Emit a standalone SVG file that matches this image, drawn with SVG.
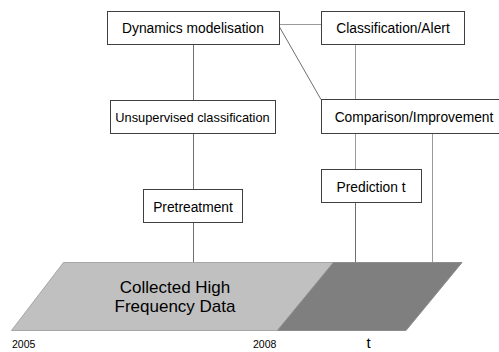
<svg xmlns="http://www.w3.org/2000/svg" width="499" height="352" viewBox="0 0 499 352">
  <style>
    .box { fill: #ffffff; stroke: #3f3f3f; stroke-width: 1; }
    .lbl { font-family: "Liberation Sans", Arial, sans-serif; font-size: 13.8px; fill: #000000; text-anchor: middle; }
    .big { font-family: "Liberation Sans", Arial, sans-serif; font-size: 17px; fill: #000000; text-anchor: middle; }
    .yr { font-family: "Liberation Sans", Arial, sans-serif; font-size: 10.5px; fill: #000000; }
    .conn { stroke: #6f6f6f; stroke-width: 1; fill: none; }
    .connl { stroke: #9a9a9a; stroke-width: 1; fill: none; }
  </style>
  <rect width="499" height="352" fill="#ffffff"/>

  <g id="data-band">
    <polygon points="63.5,262.5 333.5,262.5 277.5,330.5 11.5,330.5" fill="#c0c0c0" stroke="#a6a6a6" stroke-width="1"/>
    <polygon points="333.5,262.5 462,262.5 406,330.5 277.5,330.5" fill="#7f7f7f" stroke="#8c8c8c" stroke-width="1"/>
    <text class="big" x="175" y="293">Collected High</text>
    <text class="big" x="175" y="312">Frequency Data</text>
  </g>

  <g id="connectors">
    <line class="connl" x1="280" y1="24.5" x2="321" y2="24.5"/>
    <line class="conn" x1="279.5" y1="27" x2="321" y2="99.5"/>
    <line class="conn" x1="193.5" y1="44" x2="193.5" y2="100"/>
    <line class="conn" x1="193.5" y1="133" x2="193.5" y2="189"/>
    <line class="conn" x1="193.5" y1="222" x2="193.5" y2="262"/>
    <line class="connl" x1="355.5" y1="44" x2="355.5" y2="99"/>
    <line class="connl" x1="355.5" y1="133" x2="355.5" y2="169"/>
    <line class="conn" x1="355.5" y1="202" x2="355.5" y2="262"/>
    <line class="connl" x1="432.5" y1="133" x2="432.5" y2="262"/>
  </g>

  <g id="dynamics">
    <rect class="box" x="107.5" y="11.5" width="172" height="33"/>
    <text class="lbl" x="193" y="33">Dynamics modelisation</text>
  </g>
  <g id="classification-alert">
    <rect class="box" x="321.5" y="11.5" width="143" height="33"/>
    <text class="lbl" x="393" y="33">Classification/Alert</text>
  </g>
  <g id="unsupervised">
    <rect class="box" x="110.5" y="100.5" width="165" height="33"/>
    <text class="lbl" x="192.5" y="122" style="font-size:12.8px">Unsupervised classification</text>
  </g>
  <g id="comparison">
    <rect class="box" x="321.5" y="99.5" width="180" height="34"/>
    <text class="lbl" x="414" y="122">Comparison/Improvement</text>
  </g>
  <g id="pretreatment">
    <rect class="box" x="143.5" y="189.5" width="99" height="33"/>
    <text class="lbl" x="193" y="212">Pretreatment</text>
  </g>
  <g id="prediction">
    <rect class="box" x="321.5" y="169.5" width="100" height="33"/>
    <text class="lbl" x="371" y="192">Prediction t</text>
  </g>

  <g id="axis-labels">
    <text class="yr" x="12" y="348">2005</text>
    <text class="yr" x="253" y="348">2008</text>
    <text class="lbl" x="368.5" y="348" style="font-size:15px">t</text>
  </g>
</svg>
